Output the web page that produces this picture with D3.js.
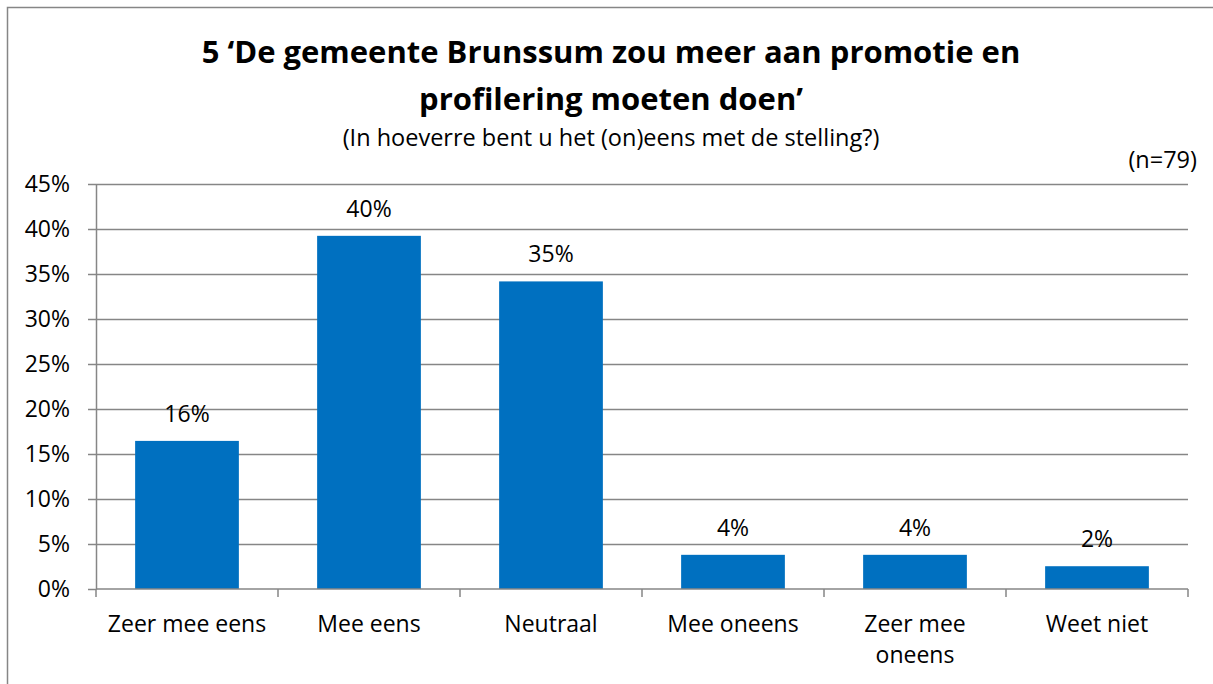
<!DOCTYPE html>
<html lang="nl">
<head>
    <meta charset="UTF-8">
    <title>Promotie en profilering Brunssum</title>
    <script src="https://d3js.org/d3.v7.min.js"></script>
    <style>
        body { margin: 0; background: #fff; }
        svg { display: block; }
        text { font-family: "Open Sans", Lato, sans-serif; fill: #000; }
        .title { font-size: 31px; font-weight: bold; text-anchor: middle; }
        .subtitle { font-size: 23.5px; text-anchor: middle; }
        .lbl { font-size: 23px; text-anchor: middle; }
        .axis text { font-size: 23px; font-family: "Open Sans", Lato, sans-serif; fill: #000; }
        .axis path, .axis line { stroke: #868686; }
    </style>
</head>
<body>
    <svg width="1213" height="684"></svg>
    <script>
        const categories = [["Zeer mee eens"], ["Mee eens"], ["Neutraal"], ["Mee oneens"], ["Zeer mee", "oneens"], ["Weet niet"]];
        const counts = [13, 31, 27, 3, 3, 2];
        const total = 79;
        const values = counts.map(c => c / total * 100);
        const labels = ["16%", "40%", "35%", "4%", "4%", "2%"];
        const yTicks = [0, 5, 10, 15, 20, 25, 30, 35, 40, 45];

        const width = 1213, height = 684;
        const margin = {top: 184, right: 25, bottom: 95, left: 96};
        const innerWidth = width - margin.left - margin.right;   // 1092
        const innerHeight = height - margin.top - margin.bottom; // 405

        const svg = d3.select("svg");

        // chart border (only top and left edges fall inside the picture)
        svg.append("path")
            .attr("d", `M7.5,${height} V7.5 H${width}`)
            .attr("fill", "none")
            .attr("stroke", "#868686")
            .attr("stroke-width", 1.5);

        svg.append("text").attr("class", "title")
            .attr("x", 611).attr("y", 63)
            .text("5 \u2018De gemeente Brunssum zou meer aan promotie en");
        svg.append("text").attr("class", "title")
            .attr("x", 611).attr("y", 110)
            .text("profilering moeten doen\u2019");
        svg.append("text").attr("class", "subtitle")
            .attr("x", 611).attr("y", 146)
            .text("(In hoeverre bent u het (on)eens met de stelling?)");
        svg.append("text").attr("class", "subtitle")
            .attr("x", 1197).attr("y", 168)
            .style("text-anchor", "end")
            .text("(n=79)");

        const chart = svg.append("g")
            .attr("transform", `translate(${margin.left},${margin.top})`);

        const x = d3.scaleBand()
            .domain(d3.range(categories.length))
            .range([0, innerWidth])
            .paddingInner(0.43)
            .paddingOuter(0.215);

        const xCat = d3.scaleBand()
            .domain(d3.range(categories.length))
            .range([0, innerWidth]);

        const y = d3.scaleLinear()
            .domain([0, 45])
            .range([innerHeight, 0]);

        // gridlines
        chart.append("g")
            .selectAll("line")
            .data(yTicks.filter(t => t > 0))
            .join("line")
            .attr("x1", 0).attr("x2", innerWidth)
            .attr("y1", d => Math.round(y(d)) + 0.5)
            .attr("y2", d => Math.round(y(d)) + 0.5)
            .attr("stroke", "#868686")
            .attr("stroke-width", 1.5);

        // bars
        chart.append("g")
            .selectAll("rect")
            .data(values)
            .join("rect")
            .attr("x", (d, i) => x(i))
            .attr("y", d => y(d))
            .attr("width", x.bandwidth())
            .attr("height", d => innerHeight - y(d))
            .attr("fill", "#0070C0");

        // data labels
        chart.append("g")
            .selectAll("text")
            .data(values)
            .join("text")
            .attr("class", "lbl")
            .attr("x", (d, i) => x(i) + x.bandwidth() / 2)
            .attr("y", d => y(d) - 19)
            .text((d, i) => labels[i]);

        // y axis
        const yAxis = chart.append("g")
            .attr("class", "axis")
            .call(d3.axisLeft(y).tickValues(yTicks).tickFormat(d => d + "%").tickSize(8).tickSizeOuter(0).tickPadding(18));
        yAxis.selectAll("path, line").attr("stroke-width", 1.5);

        // x axis: ticks at category boundaries
        const xAxis = chart.append("g")
            .attr("class", "axis")
            .attr("transform", `translate(0,${innerHeight})`);
        xAxis.append("line")
            .attr("x1", 0).attr("x2", innerWidth)
            .attr("stroke", "#868686").attr("stroke-width", 1.5);
        xAxis.selectAll(".tk")
            .data(d3.range(categories.length + 1))
            .join("line")
            .attr("class", "tk")
            .attr("x1", i => i < categories.length ? xCat(i) : innerWidth)
            .attr("x2", i => i < categories.length ? xCat(i) : innerWidth)
            .attr("y1", 0).attr("y2", 8)
            .attr("stroke", "#868686").attr("stroke-width", 1.5);
        xAxis.selectAll(".cat")
            .data(categories)
            .join("text")
            .attr("class", "cat")
            .attr("text-anchor", "middle")
            .attr("x", (d, i) => xCat(i) + xCat.bandwidth() / 2)
            .attr("y", 43)
            .selectAll("tspan")
            .data(d => d)
            .join("tspan")
            .attr("x", function () { return d3.select(this.parentNode).attr("x"); })
            .attr("dy", (d, j) => j === 0 ? 0 : 31)
            .text(d => d);
    </script>
</body>
</html>
